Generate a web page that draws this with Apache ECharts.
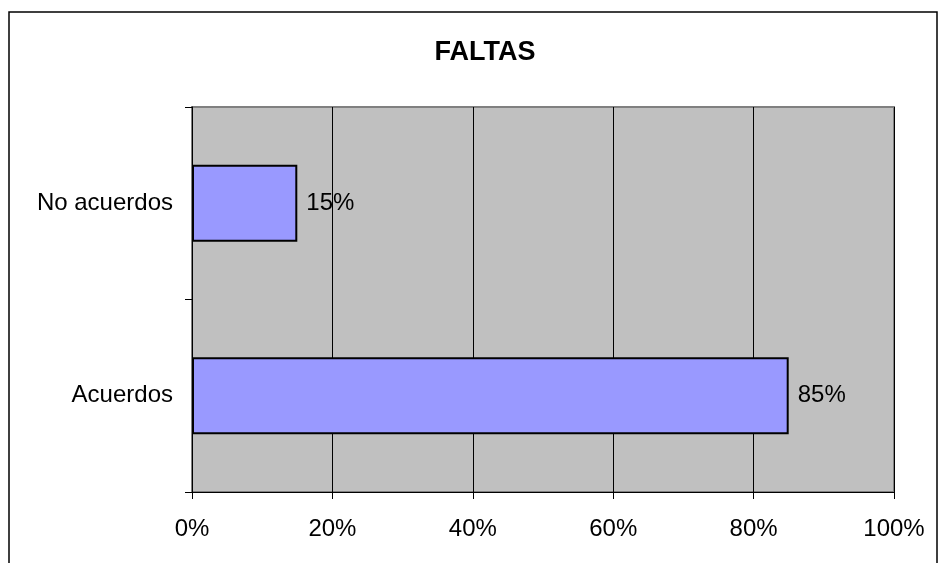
<!DOCTYPE html>
<html><head><meta charset="utf-8">
<script src="https://cdn.jsdelivr.net/npm/echarts@6/dist/echarts.min.js"></script>
<style>html,body{margin:0;padding:0;background:#fff}#c{width:938px;height:563px}</style>
</head><body><div id="c"></div>
<script>
const categories = ['Acuerdos', 'No acuerdos'];
const values = [85, 15];
const titleText = 'FALTAS';
const chart = echarts.init(document.getElementById('c'));
chart.setOption({
  animation: false,
  title: { text: titleText, left: 480, top: 34, textAlign: 'center',
    textStyle: { fontFamily: 'Liberation Sans, Arial', fontSize: 27, fontWeight: 'bold', color: '#000' } },
  graphic: [{ type: 'rect', shape: { x: 9, y: 12, width: 928, height: 600 },
    style: { fill: null, stroke: '#000', lineWidth: 1.5 }, silent: true, z: -10 }],
  grid: { left: 192, right: 44, top: 107, bottom: 71, show: true, backgroundColor: '#c0c0c0',
    borderColor: '#808080', borderWidth: 2 },
  xAxis: { type: 'value', min: 0, max: 100, interval: 20,
    axisLine: { show: true, onZero: false, lineStyle: { color: '#000', width: 1 } },
    axisTick: { show: true, length: 7, lineStyle: { color: '#000' } },
    axisLabel: { formatter: '{value}%', fontFamily: 'Liberation Sans, Arial', fontSize: 24, color: '#000', margin: 25 },
    splitLine: { show: true, lineStyle: { color: '#000', width: 1 } } },
  yAxis: { type: 'category', data: categories,
    axisLine: { show: true, lineStyle: { color: '#000', width: 1 } },
    axisTick: { show: true, length: 7, lineStyle: { color: '#000' } },
    axisLabel: { fontFamily: 'Liberation Sans, Arial', fontSize: 24, color: '#000', margin: 19 } },
  series: [{ type: 'bar', data: values, barWidth: '40%',
    itemStyle: { color: '#9999ff', borderColor: '#000', borderWidth: 2 },
    label: { show: true, position: 'right', formatter: '{c}%', distance: 9,
      fontFamily: 'Liberation Sans, Arial', fontSize: 24, color: '#000' } }]
});
</script></body></html>
